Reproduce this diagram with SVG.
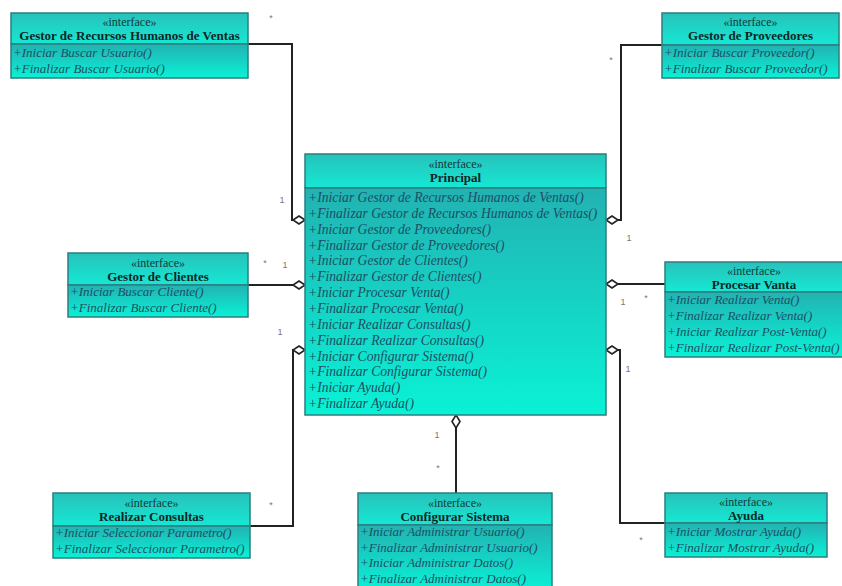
<svg xmlns="http://www.w3.org/2000/svg" width="842" height="586" viewBox="0 0 842 586">
  <defs>
    <linearGradient id="hdr" x1="0" y1="0" x2="0" y2="1">
      <stop offset="0" stop-color="#27c2ba"/>
      <stop offset="1" stop-color="#16e8d4"/>
    </linearGradient>
    <linearGradient id="ops" x1="0" y1="0" x2="0" y2="1">
      <stop offset="0" stop-color="#22b2b2"/>
      <stop offset="1" stop-color="#0af2d6"/>
    </linearGradient>
    <style>
      .hdr { fill: url(#hdr); stroke: #2b7f80; stroke-width: 1.5; }
      .ops { fill: url(#ops); stroke: #2b7f80; stroke-width: 1.5; }
      .st { font-family: "Liberation Serif", serif; font-size: 12px; fill: #143a3a; text-anchor: middle; }
      .nm { font-family: "Liberation Serif", serif; font-size: 13px; font-weight: bold; fill: #0e2626; text-anchor: middle; }
      .op { font-family: "Liberation Serif", serif; font-size: 13px; font-style: italic; fill: #1c4f63; }
      .big { font-size: 13.6px; }
      .ln { fill: none; stroke: #222; stroke-width: 2; }
      .dm { fill: #fff; stroke: #222; stroke-width: 1.6; }
      .mu { font-family: "Liberation Sans", sans-serif; font-size: 9px; fill: #777; text-anchor: middle; }
    </style>
  </defs>

  <rect width="842" height="586" fill="#fff"/>

  <!-- connectors (aggregations into Principal) -->
  <g id="connectors">
    <path class="ln" d="M248,44 H292 V220 H294"/>
    <path class="ln" d="M662,45 H621 V220 H617"/>
    <path class="ln" d="M248,285 H294"/>
    <path class="ln" d="M665,284 H617"/>
    <path class="ln" d="M250,526 H293 V350 H294"/>
    <path class="ln" d="M665,523 H620 V350 H617"/>
    <path class="ln" d="M456,493 V428"/>
    <!-- hollow diamonds on the Principal side -->
    <polygon class="dm" points="305,220 299,216 293,220 299,224"/>
    <polygon class="dm" points="305,285 299,281 293,285 299,289"/>
    <polygon class="dm" points="305,350 299,346 293,350 299,354"/>
    <polygon class="dm" points="606,220 612,216 618,220 612,224"/>
    <polygon class="dm" points="606,284 612,280 618,284 612,288"/>
    <polygon class="dm" points="606,350 612,346 618,350 612,354"/>
    <polygon class="dm" points="456,415 452,421.5 456,428 460,421.5"/>
    <!-- multiplicities -->
    <text class="mu" x="271" y="21">*</text>
    <text class="mu" x="282" y="203">1</text>
    <text class="mu" x="265" y="266">*</text>
    <text class="mu" x="285" y="268">1</text>
    <text class="mu" x="280" y="335">1</text>
    <text class="mu" x="271" y="508">*</text>
    <text class="mu" x="611" y="63">*</text>
    <text class="mu" x="629" y="241">1</text>
    <text class="mu" x="623" y="305">1</text>
    <text class="mu" x="646" y="301">*</text>
    <text class="mu" x="628" y="372">1</text>
    <text class="mu" x="641" y="543">*</text>
    <text class="mu" x="437" y="438">1</text>
    <text class="mu" x="438" y="471">*</text>
  </g>

  <!-- Principal -->
  <g id="principal">
    <rect class="hdr" x="305" y="154" width="301" height="34"/>
    <rect class="ops" x="305" y="188" width="301" height="227"/>
    <text class="st" x="455.5" y="168">«interface»</text>
    <text class="nm" x="455.5" y="182">Principal</text>
    <text class="op big" x="308" y="202">+Iniciar Gestor de Recursos Humanos de Ventas()</text>
    <text class="op big" x="308" y="218">+Finalizar Gestor de Recursos Humanos de Ventas()</text>
    <text class="op big" x="308" y="233.5">+Iniciar Gestor de Proveedores()</text>
    <text class="op big" x="308" y="249.5">+Finalizar Gestor de Proveedores()</text>
    <text class="op big" x="308" y="265">+Iniciar Gestor de Clientes()</text>
    <text class="op big" x="308" y="281">+Finalizar Gestor de Clientes()</text>
    <text class="op big" x="308" y="297">+Iniciar Procesar Venta()</text>
    <text class="op big" x="308" y="313">+Finalizar Procesar Venta()</text>
    <text class="op big" x="308" y="328.5">+Iniciar Realizar Consultas()</text>
    <text class="op big" x="308" y="344.5">+Finalizar Realizar Consultas()</text>
    <text class="op big" x="308" y="360.5">+Iniciar Configurar Sistema()</text>
    <text class="op big" x="308" y="376">+Finalizar Configurar Sistema()</text>
    <text class="op big" x="308" y="392">+Iniciar Ayuda()</text>
    <text class="op big" x="308" y="408">+Finalizar Ayuda()</text>
  </g>

  <!-- Gestor de Recursos Humanos de Ventas -->
  <g id="gestor-rrhh">
    <rect class="hdr" x="11" y="13" width="237" height="31"/>
    <rect class="ops" x="11" y="44" width="237" height="34"/>
    <text class="st" x="129.5" y="26">«interface»</text>
    <text class="nm" x="129.5" y="40">Gestor de Recursos Humanos de Ventas</text>
    <text class="op" x="13" y="57">+Iniciar Buscar Usuario()</text>
    <text class="op" x="13" y="73">+Finalizar Buscar Usuario()</text>
  </g>

  <!-- Gestor de Proveedores -->
  <g id="gestor-proveedores">
    <rect class="hdr" x="662" y="13" width="177" height="32"/>
    <rect class="ops" x="662" y="45" width="177" height="33"/>
    <text class="st" x="750.5" y="26">«interface»</text>
    <text class="nm" x="750.5" y="40">Gestor de Proveedores</text>
    <text class="op" x="664" y="57">+Iniciar Buscar Proveedor()</text>
    <text class="op" x="664" y="73">+Finalizar Buscar Proveedor()</text>
  </g>

  <!-- Gestor de Clientes -->
  <g id="gestor-clientes">
    <rect class="hdr" x="68" y="253" width="180" height="32"/>
    <rect class="ops" x="68" y="285" width="180" height="32"/>
    <text class="st" x="158" y="267">«interface»</text>
    <text class="nm" x="158" y="281">Gestor de Clientes</text>
    <text class="op" x="70" y="296">+Iniciar Buscar Cliente()</text>
    <text class="op" x="70" y="312">+Finalizar Buscar Cliente()</text>
  </g>

  <!-- Procesar Venta -->
  <g id="procesar-venta">
    <rect class="hdr" x="665" y="262" width="178" height="30"/>
    <rect class="ops" x="665" y="292" width="178" height="65"/>
    <text class="st" x="754" y="275">«interface»</text>
    <text class="nm" x="754" y="289">Procesar Vanta</text>
    <text class="op" x="667" y="304">+Iniciar Realizar Venta()</text>
    <text class="op" x="667" y="320">+Finalizar Realizar Venta()</text>
    <text class="op" x="667" y="336">+Iniciar Realizar Post-Venta()</text>
    <text class="op" x="667" y="352">+Finalizar Realizar Post-Venta()</text>
  </g>

  <!-- Realizar Consultas -->
  <g id="realizar-consultas">
    <rect class="hdr" x="53" y="493" width="197" height="33"/>
    <rect class="ops" x="53" y="526" width="197" height="32"/>
    <text class="st" x="151.5" y="507">«interface»</text>
    <text class="nm" x="151.5" y="521">Realizar Consultas</text>
    <text class="op" x="55" y="537">+Iniciar Seleccionar Parametro()</text>
    <text class="op" x="55" y="553">+Finalizar Seleccionar Parametro()</text>
  </g>

  <!-- Configurar Sistema -->
  <g id="configurar-sistema">
    <rect class="hdr" x="358" y="493" width="194" height="32"/>
    <rect class="ops" x="358" y="525" width="194" height="66"/>
    <text class="st" x="455" y="507">«interface»</text>
    <text class="nm" x="455" y="521">Configurar Sistema</text>
    <text class="op" x="360" y="536">+Iniciar Administrar Usuario()</text>
    <text class="op" x="360" y="552">+Finalizar Administrar Usuario()</text>
    <text class="op" x="360" y="567">+Iniciar Administrar Datos()</text>
    <text class="op" x="360" y="583">+Finalizar Administrar Datos()</text>
  </g>

  <!-- Ayuda -->
  <g id="ayuda">
    <rect class="hdr" x="665" y="493" width="162" height="30"/>
    <rect class="ops" x="665" y="523" width="162" height="34"/>
    <text class="st" x="746" y="506">«interface»</text>
    <text class="nm" x="746" y="520">Ayuda</text>
    <text class="op" x="667" y="536">+Iniciar Mostrar Ayuda()</text>
    <text class="op" x="667" y="552">+Finalizar Mostrar Ayuda()</text>
  </g>
</svg>
